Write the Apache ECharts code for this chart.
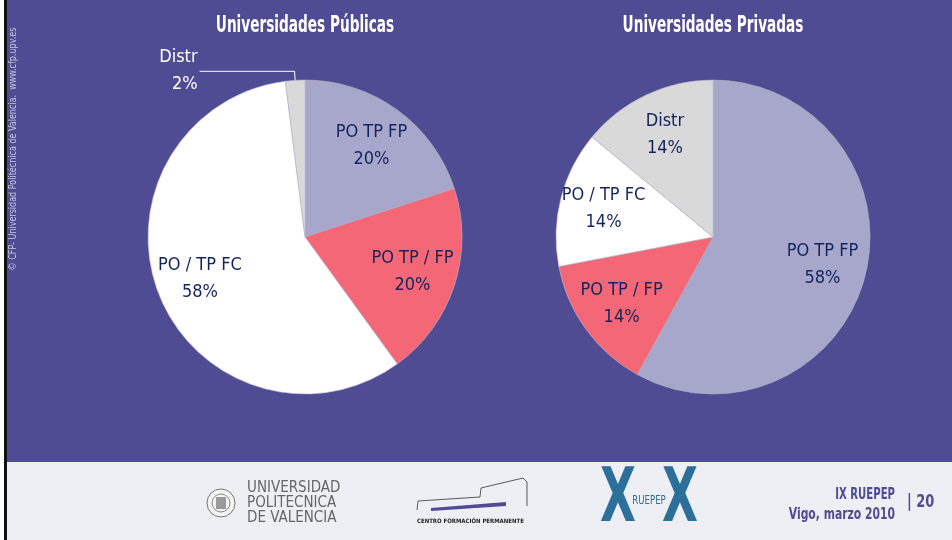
<!DOCTYPE html>
<html>
<head>
<meta charset="utf-8">
<script src="https://cdn.jsdelivr.net/npm/echarts@6/dist/echarts.min.js"></script>
<style>
  html, body { margin: 0; padding: 0; background: #fff; }
  #chart { width: 952px; height: 540px; }
</style>
</head>
<body>
<div id="chart"></div>
<script>
const categories = ['PO TP FP', 'PO TP / FP', 'PO / TP FC', 'Distr']
const publicas = [20, 20, 58, 2]
const privadas = [58, 14, 14, 14]
const titles = ['Universidades Públicas', 'Universidades Privadas']
const colors = ['#a7a6cb', '#f46776', '#ffffff', '#d9d9d9']

const font = "'Liberation Sans Narrow', 'DejaVu Sans Condensed', sans-serif"
const navy = '#13245c'
const purple = '#4f4c93'

const chart = echarts.init( document.getElementById( 'chart' ) )

// visible pie, no labels
const basePie = ( center, values ) => ( {
  type : 'pie',
  center,
  radius : 157,
  startAngle : 90,
  clockwise : true,
  silent : true,
  label : { show : false },
  labelLine : { show : false },
  itemStyle : { borderColor : '#b8b8cc', borderWidth : 0.6 },
  data : categories.map( ( name, i ) => ( {
    name,
    value : values[i],
    itemStyle : { color : colors[i] }
  } ) )
} )

// transparent copy used only to put the inside labels further out
const labelPie = ( center, values, outsideIndex ) => ( {
  type : 'pie',
  center,
  radius : [63, 157],
  startAngle : 90,
  clockwise : true,
  silent : true,
  itemStyle : { color : 'transparent' },
  label : {
    show : true,
    position : 'inside',
    formatter : p => p.name + '\n' + p.value + '%',
    color : navy,
    fontFamily : font,
    fontSize : 18,
    lineHeight : 27
  },
  labelLine : { show : false },
  data : categories.map( ( name, i ) => {
    const item = { name, value : values[i] }
    if ( i === outsideIndex ) {
      item.label = { position : 'outside', color : '#ffffff', align : 'center', distanceToLabelLine : 2 }
      item.labelLine = { show : true, length : 9, length2 : 95, lineStyle : { color : '#ffffff', width : 1 } }
    }
    return item
  } )
} )

const titleText = ( x, text ) => ( {
  type : 'text', x, y : 26, scaleX : 0.66,
  style : { text, fill : '#fff', font : 'bold 23px ' + font, align : 'center', verticalAlign : 'middle' }
} )

chart.setOption( {
  backgroundColor : purple,
  animation : false,
  graphic : [
    { type : 'rect', shape : { x : 0, y : 462, width : 952, height : 78 }, style : { fill : '#eeeff4' }, z : -1 },
    { type : 'rect', shape : { x : 0, y : 0, width : 4, height : 540 }, style : { fill : '#ffffff' } },
    { type : 'rect', shape : { x : 4, y : 0, width : 3, height : 540 }, style : { fill : '#111111' } },
    titleText( 305, titles[0] ),
    titleText( 713, titles[1] ),
    {
      type : 'text', x : 13, y : 149, rotation : Math.PI / 2, scaleX : 0.85,
      style : {
        text : '© CFP- Universidad Politécnica de Valencia.  www.cfp.upv.es',
        fill : '#c9c7e2', font : '10.5px ' + font, align : 'center', verticalAlign : 'middle'
      }
    },
    // footer: UPV
    { type : 'circle', shape : { cx : 221, cy : 503, r : 14 }, style : { fill : '#f4f4f4', stroke : '#777', lineWidth : 1 } },
    { type : 'circle', shape : { cx : 221, cy : 503, r : 9 }, style : { fill : 'none', stroke : '#888', lineWidth : 1 } },
    { type : 'rect', shape : { x : 216, y : 497, width : 10, height : 12 }, style : { fill : '#999' } },
    {
      type : 'text', x : 247, y : 503,
      style : {
        text : 'UNIVERSIDAD\nPOLITECNICA\nDE VALENCIA', fill : '#666', font : '15px ' + font,
        lineHeight : 15, verticalAlign : 'middle'
      }
    },
    // footer: CFP
    {
      type : 'polyline',
      shape : { points : [[417, 510], [418, 501], [480, 497], [481, 488], [523, 478], [527, 482], [527, 506]] },
      style : { stroke : '#333', lineWidth : 0.8, fill : 'none' }
    },
    { type : 'polygon', shape : { points : [[431, 508], [506, 502], [506, 506], [431, 511]] }, style : { fill : '#4f4c93' } },
    {
      type : 'text', x : 417, y : 521,
      style : { text : 'CENTRO FORMACIÓN PERMANENTE', fill : '#222', font : 'bold 6px ' + font, verticalAlign : 'middle' }
    },
    // footer: RUEPEP
    {
      type : 'text', x : 618, y : 502, scaleX : 0.7,
      style : { text : 'X', fill : '#2b6f9a', font : 'bold 74px ' + font, align : 'center', verticalAlign : 'middle' }
    },
    {
      type : 'text', x : 680, y : 502, scaleX : 0.7,
      style : { text : 'X', fill : '#2b6f9a', font : 'bold 74px ' + font, align : 'center', verticalAlign : 'middle' }
    },
    {
      type : 'text', x : 649, y : 501, scaleX : 0.8,
      style : { text : 'RUEPEP', fill : '#2b6f9a', font : '12px ' + font, align : 'center', verticalAlign : 'middle', stroke : '#eeeff4', lineWidth : 1 }
    },
    // footer: event
    {
      type : 'text', x : 895, y : 495, scaleX : 0.75,
      style : { text : 'IX RUEPEP', fill : purple, font : 'bold 15px ' + font, align : 'right', verticalAlign : 'middle' }
    },
    {
      type : 'text', x : 895, y : 515, scaleX : 0.8,
      style : { text : 'Vigo, marzo 2010', fill : purple, font : 'bold 15px ' + font, align : 'right', verticalAlign : 'middle' }
    },
    {
      type : 'text', x : 907, y : 503, scaleX : 0.85,
      style : { text : '| 20', fill : purple, font : 'bold 17px ' + font, verticalAlign : 'middle' }
    }
  ],
  series : [
    basePie( [305, 237], publicas ),
    labelPie( [305, 237], publicas, 3 ),
    basePie( [713, 237], privadas ),
    labelPie( [713, 237], privadas, -1 )
  ]
} )
</script>
</body>
</html>
